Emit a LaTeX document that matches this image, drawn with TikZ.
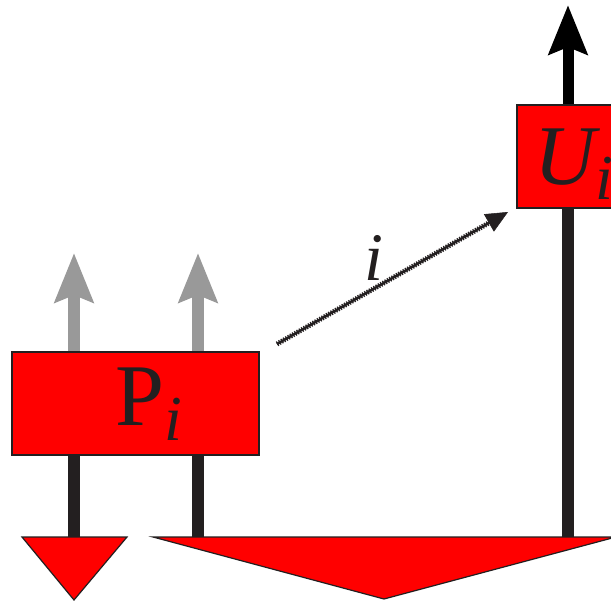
\documentclass[tikz,border=0pt]{standalone}
\usepackage{fontspec}
\setmainfont{Liberation Serif}
\usetikzlibrary{arrows.meta,calc}
\definecolor{ink}{HTML}{231F20}
\definecolor{boxred}{HTML}{FF0000}
\definecolor{arrgrey}{HTML}{999999}
\begin{document}
\begin{tikzpicture}[x=1pt,y=-1pt,
  redbox/.style={draw=ink, line width=1.2pt, fill=boxred, inner sep=0pt, outer sep=0pt, minimum height=103pt},
  stem/.style={draw=ink, line width=11.5pt},
  greyarrow/.style={draw=arrgrey, line width=12pt, -{Stealth[length=49pt,width=38pt,inset=7pt]}},
  blackarrow/.style={draw=black, line width=11pt, -{Stealth[length=49pt,width=38pt,inset=7pt]}},
  tri/.style={fill=boxred, draw=ink, line width=1.2pt, line join=miter},
  dots/.style={draw=ink, line width=5pt, dash pattern=on 1.3pt off 1.3pt},
  dotcore/.style={draw=ink, line width=2.4pt},
  txt/.style={inner sep=0pt, outer sep=0pt, text=ink}]
\clip (0,0) rectangle (611,604);
\fill[white] (0,0) rectangle (611,604);
% coordinates
\coordinate (l1) at (74,537);
\coordinate (l2) at (198,537);
\coordinate (r1) at (568,537);
\coordinate (g1) at (74,253);
\coordinate (g2) at (198,253);
\coordinate (ut) at (568,5);
\coordinate (da) at (277,344);
\coordinate (db) at (508,212);
% boxes (positions)
\path node[redbox, draw=none, fill=none, minimum width=247pt, anchor=north west] (P) at (12,352) {};
\path node[redbox, draw=none, fill=none, minimum width=133pt, anchor=north west] (U) at (517,105) {};
% stems and arrows
\draw[stem] (P.south -| l1) -- (l1);
\draw[stem] (P.south -| l2) -- (l2);
\draw[stem] (U.south -| r1) -- (r1);
\draw[greyarrow] (P.north -| g1) -- (g1);
\draw[greyarrow] (P.north -| g2) -- (g2);
\draw[blackarrow] (U.north -| ut) -- (ut);
% boxes drawn
\node[redbox, minimum width=247pt, anchor=north west] (Pbox) at (12,352) {};
\node[redbox, minimum width=133pt, anchor=north west] (Ubox) at (517,105) {};
% triangles
\filldraw[tri] (22,537) -- (127,537) -- (74,600) -- cycle;
\filldraw[tri] (153,537) -- (616,537) -- (384,599) -- cycle;
% dotted arrow
\draw[dotcore, shorten >=18pt] (da) -- (db);
\draw[dots, shorten >=18pt] (da) -- (db);
\draw[ink, line width=0.5pt, -{Triangle[length=22pt,width=20pt]}] ($(da)!0.9!(db)$) -- (db);
% texts
\node[txt, anchor=base west] (Ptext) at (115.5,425) {\fontsize{88}{88}\selectfont P\raisebox{-15pt}{\fontsize{64}{64}\selectfont\itshape i}};
\node[txt, anchor=base west] (Utext) at (534,185) {\fontsize{85}{85}\selectfont\itshape U\raisebox{-15pt}{\fontsize{64}{64}\selectfont i}};
\node[txt, anchor=base west] (ilabel) at (364,281) {\fontsize{68}{68}\selectfont\itshape i};
\end{tikzpicture}
\end{document}
